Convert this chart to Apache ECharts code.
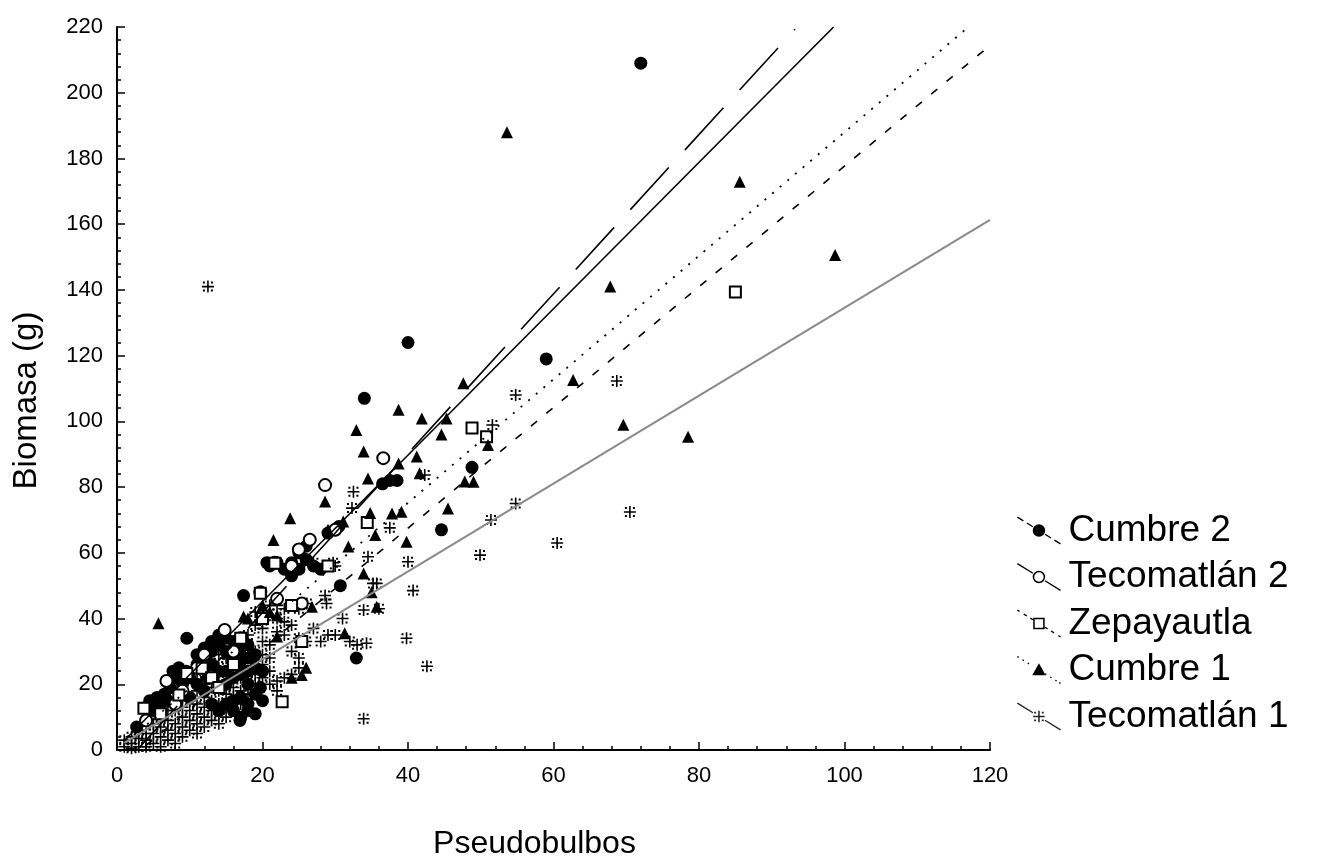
<!DOCTYPE html>
<html>
<head>
<meta charset="utf-8">
<script src="https://cdn.jsdelivr.net/npm/echarts@6/dist/echarts.min.js"></script>
<style>
html,body{margin:0;padding:0;background:#fff;}
#chart{width:1317px;height:859px;}
</style>
</head>
<body>
<div id="chart"></div>
<script>
// ---------------- DATA ----------------
const seriesNames = ['Cumbre 2', 'Tecomatlán 2', 'Zepayautla', 'Cumbre 1', 'Tecomatlán 1'];

const cumbre2 = [
  [2.7,7],[4,13],[4.5,15],[5,12],[5.5,16],[6,14],[6.5,17],[7,15],[7.3,19],[7.7,24],[8,22],[8.5,25],
  [9,20],[9.5,24],[9.6,34],[10,22],[10,16],[11,26],[11,29],[11,20],[12,28],[12,31],[12.5,22],[12,18],
  [13,30],[13,33],[13,26],[13,14],[14,32],[14,35],[14,24],[14,12],[15,30],[15,34],[15,20],[15,14],
  [15,24],[16,29],[16,33],[16,22],[16,26],[16,15],[16,12],[16.9,9],[17,31],[17,27],[17,23],[17,16],
  [17,10],[17.4,47],[18,24],[18,20],[18,28],[18,32],[18,12],[18,14],[19,17],[19,25],[19,29],[19,11],
  [19.7,19],[20,15],[20,24],[20.6,57],[21,56],[22,57],[23,55],[24,53],[24,57],[25,55],
  [25,60],[26,62],[26,58],[27,56],[28,55],[29,66],[30,67],[30.5,68],[30.7,50],[32.9,28],[34,107],
  [36.5,81],[37.5,82],[38.5,82],[40,124],[44.6,67],[48.8,86],[59,119],[72,209]
];

const tecomatlan2 = [
  [4,9],[6.8,21],[8,14],[9,18],[11,25],[12,29],[14.8,36.5],[16,30],[17,34],[19.7,48],[21.7,57],
  [22,46],[24,56],[25,61],[25.4,44.6],[26.5,64],[28.6,80.6],[30,67],[36.6,88.8]
];

const zepayautla = [
  [3.7,12.7],[6,11],[8.5,16.7],[9.6,23.3],[11.7,24.9],[13,22],[14,19],[16,26],[17,34],[19.7,47.7],
  [20,40],[21.7,56.8],[22.7,14.7],[24,44],[25.4,33],[29,56],[34.4,69.2],[48.8,98],[50.8,95.3],[85,139.4]
];

const cumbre1 = [
  [5.7,38.6],[17.4,40.6],[18,40],[20,44],[21.5,63.9],[21,42],[22,34.5],[22,41],[23.8,70.5],[24,22],
  [25.4,22.8],[26,25],[26.8,43.6],[28.6,75.6],[29,67],[31.1,69.5],[31.3,35.5],[31.8,61.9],[32.9,97.4],
  [33.9,90.8],[33.9,53.7],[34.5,82.6],[34.8,72.1],[35.5,65.4],[35.7,43.6],[35,48],[37.8,72],[38.7,103.5],
  [38.7,87.2],[39.1,72.5],[39.8,63.4],[41.2,89.3],[41.6,84.2],[41.9,100.9],[44.6,96],[45.3,100.9],
  [45.5,73.5],[47.6,111.6],[47.8,81.7],[49,81.6],[51,92.8],[53.6,188],[62.7,112.6],[67.8,141],
  [69.6,99],[78.5,95.3],[85.6,172.9],[98.7,150.6]
];

const tecomatlan1 = [
  [1,1],[1,3],[2,0.5],[2,2],[2,4],[3,1],[3,3.5],[3,6],[4,1],[4,3],[4,5],[5,2],[5,5],[5,8],
  [6,1],[6,4],[6,7],[6,10],[7,3],[7,6],[7,9],[7,12],[8,2],[8,5],[8,8],[8,12],
  [9,4],[9,7],[9,10],[9,13],[9,16],[10,6],[10,9],[10,12],[10,15],
  [11,5],[11,8],[11,11],[11,14],[11,18],[11,21],[12,7],[12,10],[12,13],[12,16],[12,20],[12,24],
  [13,9],[13,12],[13,15],[13,19],[13,22],[13,26],[14,8],[14,11],[14,14],[14,18],[14,21],[14,25],[14,29],
  [15,10],[15,13],[15,17],[15,20],[15,24],[15,28],[16,12],[16,16],[16,19],[16,23],[16,27],[16,30],
  [17,14],[17,18],[17,22],[17,25],[17,29],[17,33],[18,17],[18,21],[18,24],[18,28],[18,31],[18,35],
  [19,20],[19,23],[19,27],[19,30],[19,38],[19,42],[20,22],[20,26],[20,29],[20,33],[20,37],[20,41],
  [21,20],[21,24],[21,28],[21,32],[21,44],[22,18],[22,21],[22,36],[22,40],[22,44],
  [23,22],[23,35],[23,39],[23,43],[24,23],[24,30],[24,38],[25,25],[25,28],[25,34],[25,43],
  [26,33],[26.1,44.6],[27,37],[27,57],[28,33],[28.8,44.6],[28.6,47],[29,35],[29.7,57],[30,35],[30,56],
  [31,40],[32,33],[32.5,78.6],[32.3,73.6],[33,32],[33.9,9.5],[33.9,42.6],[34.3,32.5],[34.5,58.8],
  [35.2,50.7],[35.7,50.7],[36,43],[37.5,67.6],[39.8,34],[40,57.3],[40.7,48.5],[42.6,25.5],[42.3,83.7],
  [49.9,59.3],[51.4,70],[51.6,98.9],[54.8,75],[54.8,108],[60.5,63],[12.5,141],[68.7,112.3],[70.5,72.4]
];

// regression lines: [start point, end point]
const fitCumbre2 = [[3, 0.6], [93.2, 219.3]];
const fitTecomatlan2 = [[1, 2.9], [98.5, 220]];
const fitZepayautla = [[4, 1.4], [120, 214.4]];
const fitCumbre1 = [[1, 1.9], [116.5, 219]];
const fitTecomatlan1 = [[1, 2.2], [120, 161.3]];

const xName = 'Pseudobulbos';
const yName = 'Biomasa (g)';

// ---------------- STYLE HELPERS ----------------
const FONT = "'Liberation Sans', Arial, sans-serif";
const ASTERISK = 'path://M5.2,0h1.6v12h-1.6z M0,5.2h12v1.6h-12z M1,1h2v2h-2z M9,1h2v2h-2z M1,9h2v2h-2z M9,9h2v2h-2z';

// legend icon builder: diagonal line segments + marker, in a 45x28 box
function seg(t0, t1, w) {
  const W = 45, H = 28, L = Math.sqrt(W * W + H * H);
  const nx = -H / L * w / 2, ny = W / L * w / 2;
  const x0 = W * t0, y0 = H * t0, x1 = W * t1, y1 = H * t1;
  const f = v => v.toFixed(2);
  return 'M' + f(x0 + nx) + ',' + f(y0 + ny) + 'L' + f(x1 + nx) + ',' + f(y1 + ny) +
    'L' + f(x1 - nx) + ',' + f(y1 - ny) + 'L' + f(x0 - nx) + ',' + f(y0 - ny) + 'Z';
}
function lineSegs(kind) {
  let r = [];
  if (kind === 'solid') r = [[0, 0.36], [0.64, 1]];
  if (kind === 'long') r = [[0, 0.14], [0.22, 0.36], [0.64, 0.78], [0.86, 1]];
  if (kind === 'short') r = [[0, 0.05], [0.15, 0.22], [0.3, 0.36], [0.64, 0.7], [0.78, 0.85], [0.95, 1]];
  if (kind === 'dot') r = [[0, 0.03], [0.12, 0.15], [0.24, 0.27], [0.64, 0.67], [0.76, 0.79], [0.88, 0.91], [0.97, 1]];
  return r.map(s => seg(s[0], s[1], 1.4)).join(' ');
}
const cx = 22.5, cy = 14;
const MK = {
  circle: `M${cx - 6.5},${cy}A6.5,6.5 0 1,1 ${cx + 6.5},${cy}A6.5,6.5 0 1,1 ${cx - 6.5},${cy}Z`,
  ring: `M${cx - 6.5},${cy}A6.5,6.5 0 1,1 ${cx + 6.5},${cy}A6.5,6.5 0 1,1 ${cx - 6.5},${cy}Z M${cx - 4.9},${cy}A4.9,4.9 0 1,0 ${cx + 4.9},${cy}A4.9,4.9 0 1,0 ${cx - 4.9},${cy}Z`,
  square: `M${cx - 6},${cy - 6}H${cx + 6}V${cy + 6}H${cx - 6}Z M${cx - 4.4},${cy - 4.4}V${cy + 4.4}H${cx + 4.4}V${cy - 4.4}Z`,
  triangle: `M${cx},${cy - 7}L${cx + 7},${cy + 5.5}L${cx - 7},${cy + 5.5}Z`,
  asterisk: `M${cx - 0.8},${cy - 6}h1.6v12h-1.6z M${cx - 6},${cy - 0.8}h12v1.6h-12z M${cx - 5},${cy - 5}h2v2h-2z M${cx + 3},${cy - 5}h2v2h-2z M${cx - 5},${cy + 3}h2v2h-2z M${cx + 3},${cy + 3}h2v2h-2z`
};
function icon(kind, mk) { return 'path://' + lineSegs(kind) + ' ' + MK[mk]; }
const iconStyle = { color: '#000', borderWidth: 0, borderColor: 'transparent' };

// ---------------- CHART ----------------
const chart = echarts.init(document.getElementById('chart'), null, { renderer: 'canvas' });

function scatter(name, data, symbol, size, z) {
  return {
    name: name, type: 'scatter', data: data, symbol: symbol, symbolSize: size,
    itemStyle: { color: '#000', borderColor: '#000', borderWidth: symbol.indexOf('empty') === 0 ? 1.6 : 0, opacity: 1 },
    emphasis: { disabled: true }, z: z, silent: true
  };
}
function fit(name, data, color, type, width) {
  return {
    name: name + ' ajuste', type: 'line', data: data, showSymbol: false, symbol: 'none',
    lineStyle: { color: color, width: width, type: type },
    emphasis: { disabled: true }, z: 10, silent: true, clip: true
  };
}

const option = {
  backgroundColor: '#fff',
  animation: false,
  grid: { left: 117, right: 327, top: 27, bottom: 109, containLabel: false, outerBoundsMode: 'none' },
  xAxis: {
    type: 'value', min: 0, max: 120, interval: 20,
    name: xName, nameLocation: 'middle', nameGap: 78,
    nameTextStyle: { fontFamily: FONT, fontSize: 32, color: '#000', padding: [0, 38, 0, 0] },
    axisLine: { show: true, onZero: false, lineStyle: { color: '#000', width: 2 } },
    axisTick: { show: true, inside: true, length: 8, lineStyle: { color: '#000', width: 1.5 } },
    minorTick: { show: true, splitNumber: 5, length: 4, lineStyle: { color: '#000', width: 1.5 } },
    axisLabel: { fontFamily: FONT, fontSize: 22, color: '#000', margin: 15 },
    splitLine: { show: false }, minorSplitLine: { show: false }
  },
  yAxis: {
    type: 'value', min: 0, max: 220, interval: 20,
    name: yName, nameLocation: 'middle', nameGap: 74, nameRotate: 90,
    nameTextStyle: { fontFamily: FONT, fontSize: 33, color: '#000', padding: [0, 24, 0, 0] },
    axisLine: { show: true, onZero: false, lineStyle: { color: '#000', width: 2 } },
    axisTick: { show: true, inside: true, length: 8, lineStyle: { color: '#000', width: 1.5 } },
    minorTick: { show: true, splitNumber: 5, length: 4, lineStyle: { color: '#000', width: 1.5 } },
    axisLabel: { fontFamily: FONT, fontSize: 22, color: '#000', margin: 14 },
    splitLine: { show: false }, minorSplitLine: { show: false }
  },
  legend: {
    orient: 'vertical', left: 1012, top: 507,
    itemWidth: 45, itemHeight: 28, itemGap: 9.5,
    itemStyle: iconStyle,
    textStyle: { fontFamily: FONT, fontSize: 37, color: '#000', padding: [0, 0, 0, 2] },
    selectedMode: false,
    data: [
      { name: seriesNames[0], icon: icon('long', 'circle'), itemStyle: iconStyle },
      { name: seriesNames[1], icon: icon('solid', 'ring'), itemStyle: iconStyle },
      { name: seriesNames[2], icon: icon('short', 'square'), itemStyle: iconStyle },
      { name: seriesNames[3], icon: icon('dot', 'triangle'), itemStyle: iconStyle },
      { name: seriesNames[4], icon: icon('solid', 'asterisk'), itemStyle: { color: '#222', borderWidth: 0 } }
    ]
  },
  series: [
    scatter(seriesNames[4], tecomatlan1, ASTERISK, 12, 2),
    scatter(seriesNames[0], cumbre2, 'circle', 13, 3),
    scatter(seriesNames[1], tecomatlan2, 'emptyCircle', 12, 4),
    scatter(seriesNames[2], zepayautla, 'emptyRect', 11, 5),
    scatter(seriesNames[3], cumbre1, 'triangle', 12, 6),
    fit(seriesNames[0], fitCumbre2, '#000', [57, 24], 1.6),
    fit(seriesNames[1], fitTecomatlan2, '#000', 'solid', 1.6),
    fit(seriesNames[2], fitZepayautla, '#000', [8, 12], 1.6),
    fit(seriesNames[3], fitCumbre1, '#000', [2, 8], 1.8),
    fit(seriesNames[4], fitTecomatlan1, '#8a8a8a', 'solid', 2)
  ]
};
chart.setOption(option);
</script>
</body>
</html>
